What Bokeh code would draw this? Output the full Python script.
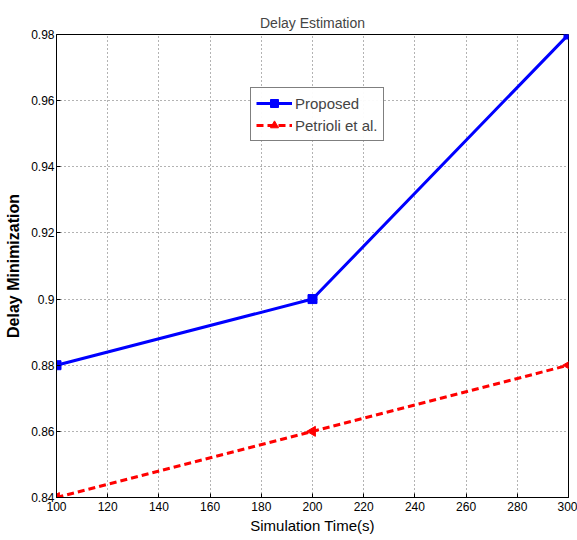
from bokeh.plotting import figure
from bokeh.models import Range1d, Legend, LegendItem, FixedTicker
from bokeh.embed import file_html
from bokeh.resources import INLINE

sim_time = [100, 200, 300]
proposed = [0.88, 0.90, 0.98]
petrioli = [0.84, 0.86, 0.88]
x_ticks = list(range(100, 301, 20))
y_ticks = [0.84, 0.86, 0.88, 0.90, 0.92, 0.94, 0.96, 0.98]

p = figure(width=577, height=540, output_backend="svg", toolbar_location=None,
           x_range=Range1d(100, 300), y_range=Range1d(0.84, 0.98),
           min_border_left=56, min_border_right=9, min_border_top=34, min_border_bottom=43)

p.title.text = "Delay Estimation"
p.title.align = "center"
p.title.text_font = "Liberation Sans"
p.title.text_font_size = "14px"
p.title.text_font_style = "normal"
p.title.offset = 0
p.title.standoff = 8

p.outline_line_color = "black"
p.outline_line_width = 1

font = "Liberation Sans"
for ax in (p.xaxis[0], p.yaxis[0]):
    ax.major_label_text_font = font
    ax.major_label_text_font_size = "12px"
    ax.major_label_text_color = "black"
    ax.axis_line_color = "black"
    ax.major_tick_in = 4
    ax.major_tick_out = 0
    ax.minor_tick_line_color = None
    ax.major_tick_line_color = "black"
    ax.axis_label_text_font = font
    ax.axis_label_text_color = "black"

p.xaxis[0].ticker = FixedTicker(ticks=x_ticks)
p.yaxis[0].ticker = FixedTicker(ticks=y_ticks)
p.yaxis[0].major_label_overrides = {0.90: "0.9"}
p.xaxis[0].axis_label = "Simulation Time(s)"
p.xaxis[0].axis_label_text_font_size = "15px"
p.xaxis[0].axis_label_text_font_style = "normal"
p.xaxis[0].axis_label_standoff = 3
p.xaxis[0].major_label_standoff = 4
p.yaxis[0].axis_label = "Delay Minimization"
p.yaxis[0].axis_label_text_font_size = "16px"
p.yaxis[0].axis_label_text_font_style = "bold"
p.yaxis[0].axis_label_standoff = 6
p.yaxis[0].major_label_standoff = 2

p.xgrid.grid_line_color = "#666666"
p.ygrid.grid_line_color = "#666666"
p.xgrid.grid_line_dash = "1 3"
p.ygrid.grid_line_dash = "1 3"

l1 = p.line(sim_time, proposed, line_color="blue", line_width=3)
m1 = p.scatter(sim_time, proposed, marker="square", size=9, fill_color="blue", line_color="blue")
l2 = p.line(sim_time, petrioli, line_color="red", line_width=3, line_dash="7 4")
m2 = p.scatter(sim_time, petrioli, marker="triangle", angle=1.5708, size=10,
               fill_color="red", line_color="red")

legend = Legend(items=[LegendItem(label="Proposed", renderers=[l1, m1]),
                       LegendItem(label="Petrioli et al.", renderers=[l2, m2])],
                location=(194, 356))
legend.label_text_font = font
legend.label_text_font_size = "15px"
legend.glyph_width = 36
legend.spacing = 2
legend.padding = 5
legend.margin = 0
legend.border_line_color = "black"
legend.border_line_width = 1
legend.label_standoff = 3
p.add_layout(legend, "center")

open("out.html", "w").write(file_html(p, INLINE))
